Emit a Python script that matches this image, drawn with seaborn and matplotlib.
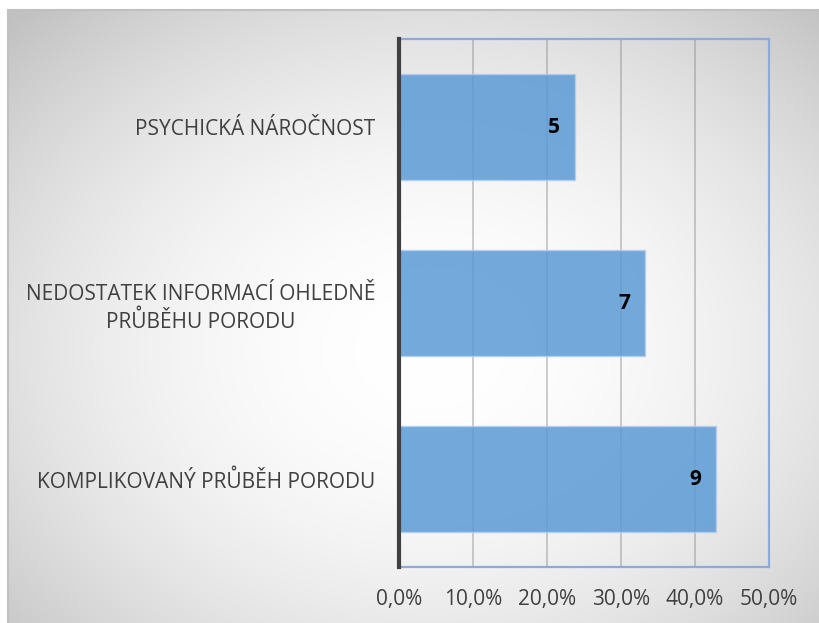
import numpy as np
import pandas as pd
import matplotlib
matplotlib.use("Agg")
import matplotlib.pyplot as plt
import seaborn as sns
from matplotlib.ticker import FuncFormatter

categories = ["PSYCHICKÁ NÁROČNOST",
              "NEDOSTATEK INFORMACÍ OHLEDNĚ\nPRŮBĚHU PORODU",
              "KOMPLIKOVANÝ PRŮBĚH PORODU"]
percent = [23.8, 33.3, 42.9]
counts = [5, 7, 9]
x_ticks = [0, 10, 20, 30, 40, 50]

sns.set_theme(style="white")
plt.rcParams['font.family'] = ['Open Sans', 'DejaVu Sans']

W, H = 819, 623
fig = plt.figure(figsize=(W / 100, H / 100), dpi=100)
fig.patch.set_facecolor("white")

# radial gradient background
bg = fig.add_axes([8 / W, 0, 1 - 8 / W, 1 - 10 / H], zorder=0)
xs = np.linspace(8, W, 400)
ys = np.linspace(10, H, 300)
X, Y = np.meshgrid(xs, ys)
cx, cy = 430, 350
r2 = (((X - cx) / 420) ** 2 + ((Y - cy) / 330) ** 2) / 2.0
val = 255 - 62 * np.clip(r2, 0, 1.0)
val = np.clip(val, 190, 255) / 255
img = np.dstack([val, val, val])
bg.imshow(img, aspect="auto", extent=[0, 1, 0, 1], origin="upper")
bg.set_axis_off()
bg.plot([0, 1], [1, 1], color="#c0c0c0", lw=1.5, transform=bg.transAxes, clip_on=False)
bg.plot([0, 0], [0, 1], color="#c0c0c0", lw=1.5, transform=bg.transAxes, clip_on=False)

ax = fig.add_axes([399 / W, 1 - 567 / H, (769 - 399) / W, (567 - 39) / H], zorder=1)
ax.patch.set_alpha(0)

df = pd.DataFrame({"cat": categories, "pct": percent, "n": counts})
sns.barplot(data=df, x="pct", y="cat", orient="h", ax=ax, width=0.6,
            color="#5b9bd5", alpha=0.85, edgecolor="#b4cfee", linewidth=1.0,
            saturation=1, zorder=3)

ax.set_xlim(0, 50)
ax.set_ylim(2.5, -0.5)
ax.set_xticks(x_ticks)
ax.xaxis.set_major_formatter(FuncFormatter(lambda v, p: f"{v:.1f}%".replace(".", ",")))
ax.grid(axis="x", color="#7f7f7f", alpha=0.45, linewidth=1.2, zorder=1)
ax.set_axisbelow(True)
ax.set_xlabel("")
ax.set_ylabel("")
ax.tick_params(axis="both", length=0, labelsize=15, colors="#404040")
ax.tick_params(axis="x", pad=16)
ax.tick_params(axis="y", pad=17)
for lbl in ax.get_yticklabels():
    lbl.set_multialignment("center")
    lbl.set_linespacing(1.35)

for s in ["top", "right", "bottom"]:
    ax.spines[s].set_color("#8eaadb")
    ax.spines[s].set_linewidth(1.6)
    ax.spines[s].set_visible(True)
ax.spines["left"].set_color("#404040")
ax.spines["left"].set_linewidth(3)
ax.spines["left"].set_visible(True)
ax.spines["left"].set_zorder(5)

for i, (p, n) in enumerate(zip(percent, counts)):
    ax.text(p - 2.1, i, str(n), ha="right", va="center", fontsize=15,
            fontweight="bold", color="black", zorder=6)

fig.savefig("out.png", dpi=100, facecolor=fig.get_facecolor())
